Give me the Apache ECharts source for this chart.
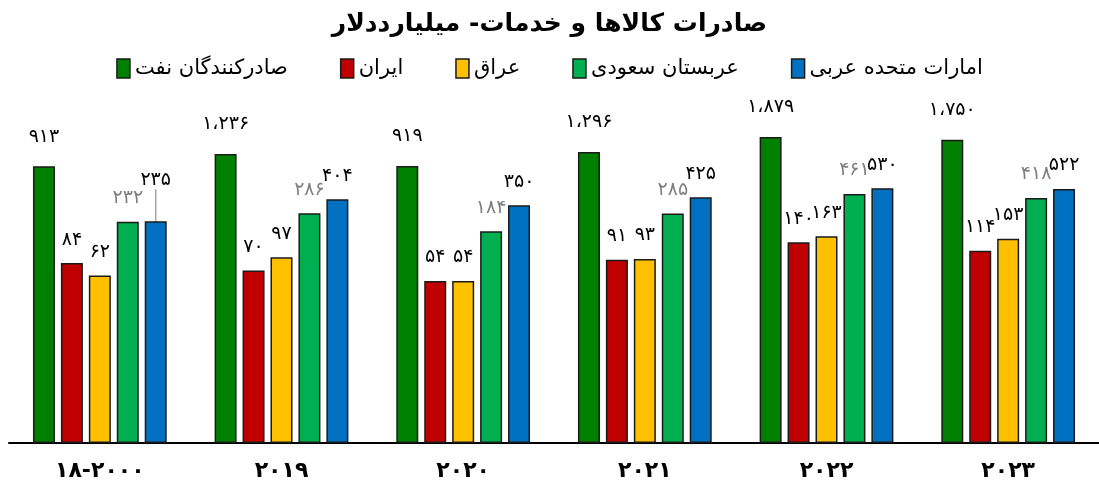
<!DOCTYPE html>
<html><head><meta charset="utf-8">
<script src="https://cdn.jsdelivr.net/npm/echarts@6/dist/echarts.min.js"></script>
<style>html,body{margin:0;padding:0;background:#fff}#c{width:1099px;height:488px}</style>
</head><body><div id="c"></div>
<script>
var categories = ['۱۸-۲۰۰۰', '۲۰۱۹', '۲۰۲۰', '۲۰۲۱', '۲۰۲۲', '۲۰۲۳'];
var seriesNames = ['صادرکنندگان نفت', 'ایران', 'عراق', 'عربستان سعودی', 'امارات متحده عربی'];
var oilExporters = [913, 1236, 919, 1296, 1879, 1750];
var iran = [84, 70, 54, 91, 140, 114];
var iraq = [62, 97, 54, 93, 163, 153];
var saudi = [232, 286, 184, 285, 461, 418];
var uae = [235, 404, 350, 425, 530, 522];
var titleText = 'صادرات کالاها و خدمات- میلیارددلار';

var colors = ['#008000', '#C00000', '#FFC000', '#00B050', '#0070C0'];
var labelColors = ['#000', '#000', '#000', '#7f7f7f', '#000'];
var FONT = 'DejaVu Sans';

function fa(n) {
  var s = String(n).replace(/\B(?=(\d{3})+(?!\d))/g, '،');
  return s.replace(/\d/g, function (d) { return '۰۱۲۳۴۵۶۷۸۹'[+d]; });
}

var all = [oilExporters, iran, iraq, saudi, uae];
var series = all.map(function (arr, i) {
  var data = arr.map(function (v, j) {
    if (i === 4 && j === 0) {
      return { value: v, labelLine: { show: true, lineStyle: { color: '#a6a6a6', width: 1.5 } } };
    }
    return v;
  });
  var s = {
    name: seriesNames[i],
    type: 'bar',
    data: data,
    barWidth: 22,
    barGap: '27%',
    itemStyle: { color: colors[i], borderColor: '#1a1a1a', borderWidth: 1.5 },
    label: {
      show: true, position: 'top', distance: i === 0 ? 20 : 14,
      color: labelColors[i], fontFamily: FONT, fontSize: 19,
      formatter: function (p) { return fa(p.value); }
    },
    labelLine: { show: false }
  };
  if (i === 4) {
    s.labelLayout = function (p) { return p.dataIndex === 0 ? { dy: -18 } : {}; };
  }
  return s;
});

var chart = echarts.init(document.getElementById('c'));
chart.setOption({
  animation: false,
  title: {
    text: titleText, left: 'center', top: 7,
    textStyle: { fontFamily: FONT, fontSize: 25, fontWeight: 'bold', color: '#000' }
  },
  legend: {
    data: seriesNames, top: 53, left: 'center', itemGap: 52, icon: 'rect',
    itemWidth: 13, itemHeight: 19,
    itemStyle: { borderColor: '#1a1a1a', borderWidth: 1.5 },
    textStyle: { fontFamily: FONT, fontSize: 21, color: '#000' }
  },
  grid: { left: 9, right: 0, top: 69, bottom: 45 },
  xAxis: {
    type: 'category', data: categories,
    axisLine: { lineStyle: { color: '#000', width: 2 } },
    axisTick: { show: false },
    axisLabel: { fontFamily: FONT, fontSize: 22, fontWeight: 'bold', color: '#000', margin: 17 }
  },
  yAxis: {
    type: 'log', min: 1, max: 10000, logBase: 10,
    show: false, splitLine: { show: false }
  },
  series: series
});
</script></body></html>
